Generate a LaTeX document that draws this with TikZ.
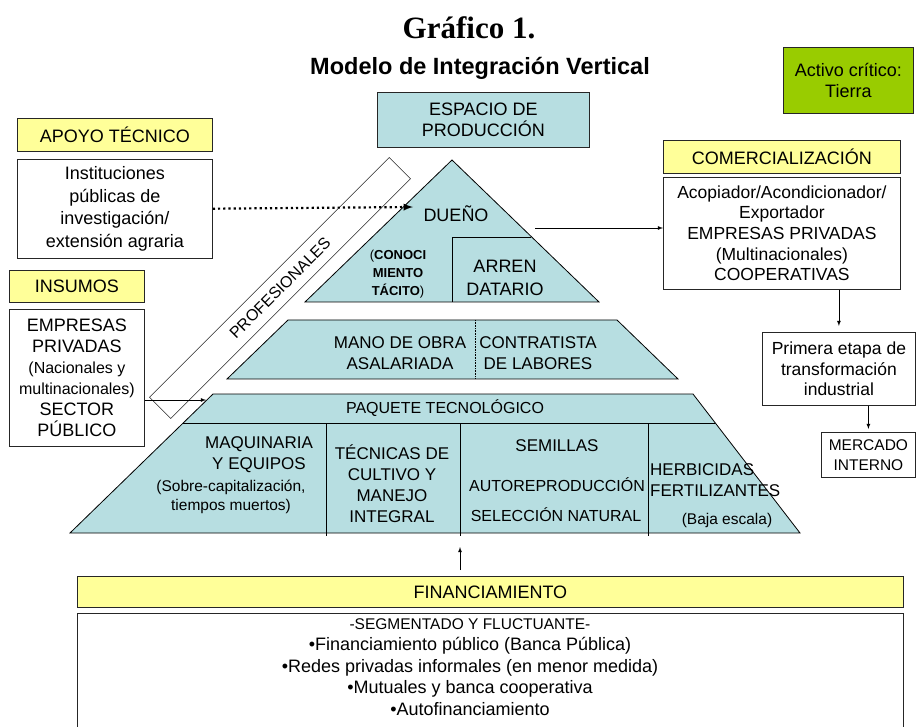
\documentclass[tikz,border=0pt]{standalone}
\usepackage{fontspec}
\setmainfont{Liberation Sans}
\newfontfamily\serifa{Liberation Serif}
\usepackage{xcolor}
\usepackage{tikz}
\usetikzlibrary{arrows,calc,positioning}

\definecolor{amarillo}{HTML}{FFFF99}
\definecolor{celeste}{HTML}{B7DEE1}
\definecolor{verde}{HTML}{99CC00}

\tikzset{
  caja/.style = {draw = black!85, line width = 0.8pt, fill = white,
    align = center, inner sep = 0pt, anchor = north west,
    font = \fontsize{18}{21}\selectfont},
  rotulo/.style = {caja, fill = amarillo},
  capa/.style = {draw = black, line width = 0.8pt, fill = celeste},
  texto/.style = {align = center, inner sep = 0pt,
    font = \fontsize{17}{21}\selectfont},
  chico/.style = {align = center, inner sep = 0pt,
    font = \fontsize{15.5}{19}\selectfont},
  flecha/.style = {-latex, line width = 0.8pt}
}

\begin{document}
\begin{tikzpicture}[x = 1pt, y = -1pt]

\clip (0,0) rectangle (916,727);

\node[font = \serifa\bfseries\fontsize{31}{33}\selectfont] (G) at (469,28) {Gráfico 1.};
\node[font = \bfseries\fontsize{23.5}{26}\selectfont] (sub) at (480,68) {Modelo de Integración Vertical};

\node[caja, fill = verde, minimum width = 130pt, minimum height = 66pt] (activo) at (783,47)
  {Activo crítico:\\Tierra};
\node[caja, fill = celeste, minimum width = 212pt, minimum height = 55pt] (espacio) at (377,92)
  {ESPACIO DE\\PRODUCCIÓN};

\node[rotulo, minimum width = 195pt, minimum height = 33pt] (apoyo) at (17,118) {APOYO TÉCNICO};
\node[caja, minimum width = 195pt, minimum height = 99pt, below = 7pt of apoyo,
  font = \fontsize{18}{22.5}\selectfont] (inst)
  {Instituciones\\públicas de\\investigación/\\extensión agraria};

\node[rotulo, minimum width = 135pt, minimum height = 32pt] (insumos) at (9,270) {INSUMOS};
\node[caja, minimum width = 135pt, minimum height = 137pt, below = 6pt of insumos] (empresas)
  {EMPRESAS\\PRIVADAS\\{\fontsize{16}{18}\selectfont (Nacionales y}\\
   {\fontsize{16}{18}\selectfont multinacionales)}\\SECTOR\\PÚBLICO};

\node[rotulo, minimum width = 237pt, minimum height = 33pt] (comerc) at (663,140) {COMERCIALIZACIÓN};
\node[caja, minimum width = 237pt, minimum height = 112pt, below = 3pt of comerc,
  font = \fontsize{17.5}{20.7}\selectfont] (acopio)
  {Acopiador/Acondicionador/\\Exportador\\EMPRESAS PRIVADAS\\(Multinacionales)\\COOPERATIVAS};

\node[caja, minimum width = 153pt, minimum height = 73pt,
  font = \fontsize{17.5}{20.5}\selectfont] (primera) at (762,332)
  {Primera etapa de\\transformación\\industrial};
\node[caja, minimum width = 94pt, minimum height = 45pt,
  font = \fontsize{15.5}{20}\selectfont] (mercado) at (821,432) {MERCADO\\INTERNO};

\node[draw = black!85, line width = 0.6pt, fill = white, rotate = 45,
  minimum width = 339pt, minimum height = 30pt, inner sep = 0pt,
  font = \fontsize{16}{18}\selectfont] (prof) at (280,288) {PROFESIONALES};

\filldraw[capa] (452,160) -- (305,302) -- (599,302) -- cycle;
\draw[line width = 0.8pt] (452,302) -- (452,237) -- (531,237);
\filldraw[capa] (288,320) -- (617,320) -- (678,379) -- (227,379) -- cycle;
\draw[densely dotted, line width = 0.6pt] (475,320) -- (475,379);
\filldraw[capa] (213,394) -- (693,394) -- (800,533) -- (70,533) -- cycle;
\draw[line width = 0.8pt] (183,423) -- (715,423);
\foreach \x in {326,460,648}
  \draw[line width = 0.8pt] (\x,423) -- (\x,536);

\node[texto, font = \fontsize{18}{21}\selectfont] (dueno) at (456,214) {DUEÑO};
\node[texto, font = \fontsize{13}{18}\selectfont] (tacito) at (398,274)
  {(\textbf{CONOCI}\\\textbf{MIENTO}\\\textbf{TÁCITO})};
\node[texto, font = \fontsize{18}{23}\selectfont] (arren) at (505,278) {ARREN\\DATARIO};

\node[texto] (mano) at (400,353) {MANO DE OBRA\\ASALARIADA};
\node[texto] (contrat) at (538,353) {CONTRATISTA\\DE LABORES};

\node[chico, font = \fontsize{16}{19}\selectfont] (paquete) at (445,408) {PAQUETE TECNOLÓGICO};
\node[texto] (maq) at (259,455) {MAQUINARIA\\Y EQUIPOS};
\node[chico] (sobre) at (231,497) {(Sobre-capitalización,\\tiempos muertos)};
\node[texto] (tecnicas) at (392,484) {TÉCNICAS DE\\CULTIVO Y\\MANEJO\\INTEGRAL};
\node[texto] (semillas) at (557,446) {SEMILLAS};
\node[chico, font = \fontsize{16}{19}\selectfont] (autorep) at (557,485) {AUTOREPRODUCCIÓN};
\node[chico, font = \fontsize{16}{19}\selectfont] (seleccion) at (556,515) {SELECCIÓN NATURAL};
\node[texto, align = left, anchor = west] (herb) at (650,480) {HERBICIDAS\\FERTILIZANTES};
\node[chico] (baja) at (727,520) {(Baja escala)};

\node[rotulo, minimum width = 826pt, minimum height = 31pt] (financ) at (77,576) {FINANCIAMIENTO};
\node[caja, minimum width = 826pt, minimum height = 130pt, below = 5pt of financ] (finbox) {};
\node[texto, anchor = north, font = \fontsize{18}{21.5}\selectfont] (fuentes) at (470,618)
  {{\fontsize{15.5}{21.5}\selectfont -SEGMENTADO Y FLUCTUANTE-}\\
   •Financiamiento público (Banca Pública)\\
   •Redes privadas informales (en menor medida)\\
   •Mutuales y banca cooperativa\\
   •Autofinanciamiento};

\coordinate (dtip) at (413,207);
\draw[flecha, line width = 2.2pt, dash pattern = on 2.2pt off 3pt] (inst.east) -- (dtip);
\coordinate (ctail) at (535,228);
\draw[flecha] (ctail) -- (ctail -| acopio.west);
\draw[flecha, shorten >= 6pt] (acopio.south -| primera.north) -- (primera.north);
\draw[flecha, shorten >= 3pt] (primera.south -| mercado.north) -- (mercado.north);
\coordinate (itip) at (206,400);
\draw[flecha] (itip -| empresas.east) -- (itip);
\coordinate (ftip) at (460,547);
\draw[flecha, shorten <= 6pt] (ftip |- financ.north) -- (ftip);

\end{tikzpicture}
\end{document}
